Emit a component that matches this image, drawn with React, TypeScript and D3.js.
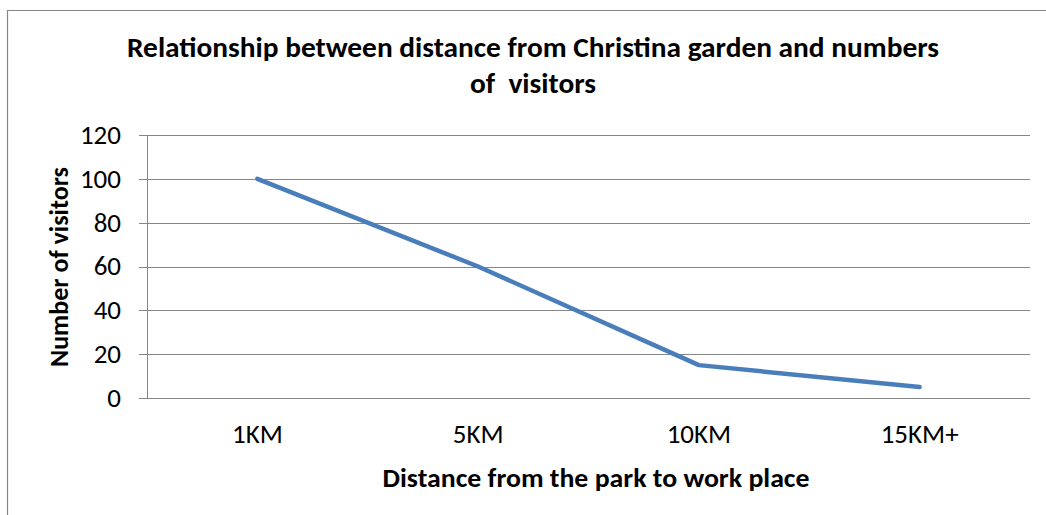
import React from "react";
import * as d3 from "d3";

const categories: string[] = ["1KM", "5KM", "10KM", "15KM+"];
const visitors: number[] = [100, 60, 15, 5];
const yTicks: number[] = [0, 20, 40, 60, 80, 100, 120];
const titleLines: string[] = [
  "Relationship between distance from Christina garden and numbers",
  "of  visitors",
];
const xTitle = "Distance from the park to work place";
const yTitle = "Number of visitors";

const W = 1046;
const H = 515;
const plot = { left: 147, right: 1030, top: 135, bottom: 398 };
const FONT = "Carlito, Calibri, 'Open Sans', sans-serif";
const GRID = "#868686";

export default function App() {
  const x = d3
    .scaleBand<string>()
    .domain(categories)
    .range([plot.left, plot.right])
    .paddingInner(0)
    .paddingOuter(0);
  const y = d3.scaleLinear().domain([0, 120]).range([plot.bottom, plot.top]);

  const line = d3
    .line<number>()
    .x((_, i) => (x(categories[i]) as number) + x.bandwidth() / 2)
    .y((d) => y(d));

  return (
    <svg
      width={W}
      height={H}
      style={{ position: "absolute", left: 0, top: 0, background: "#fff" }}
    >
      {/* chart frame */}
      <path d={`M7.5,${H} V10.5 H${W}`} fill="none" stroke={GRID} strokeWidth={1.2} />

      {/* title */}
      <g fontFamily={FONT} fontWeight="bold" fontSize={28} fill="#000" textAnchor="middle">
        <text x={533} y={57} textLength={812} lengthAdjust="spacingAndGlyphs">
          {titleLines[0]}
        </text>
        <text
          x={533}
          y={93}
          textLength={126}
          lengthAdjust="spacingAndGlyphs"
          style={{ whiteSpace: "pre" }}
        >
          {titleLines[1]}
        </text>
      </g>

      {/* gridlines and y ticks */}
      {yTicks.map((t) => (
        <g key={t}>
          <line
            x1={plot.left - 8}
            x2={plot.right}
            y1={Math.round(y(t)) + 0.5}
            y2={Math.round(y(t)) + 0.5}
            stroke={GRID}
            strokeWidth={1}
          />
          <text
            x={121}
            y={y(t)}
            dy="0.33em"
            textAnchor="end"
            fontFamily={FONT}
            fontSize={27}
            fill="#000"
          >
            {t}
          </text>
        </g>
      ))}
      {/* y axis line */}
      <line
        x1={plot.left + 0.5}
        x2={plot.left + 0.5}
        y1={plot.top}
        y2={plot.bottom}
        stroke={GRID}
        strokeWidth={1}
      />

      {/* category labels */}
      {categories.map((c) => (
        <text
          key={c}
          x={(x(c) as number) + x.bandwidth() / 2}
          y={443}
          textAnchor="middle"
          fontFamily={FONT}
          fontSize={27}
          fill="#000"
        >
          {c}
        </text>
      ))}

      {/* data line */}
      <path
        d={line(visitors) || ""}
        fill="none"
        stroke="#4A7EBB"
        strokeWidth={4.5}
        strokeLinecap="round"
        strokeLinejoin="round"
      />

      {/* axis titles */}
      <text
        x={596}
        y={487}
        textAnchor="middle"
        fontFamily={FONT}
        fontWeight="bold"
        fontSize={26}
        textLength={427}
        lengthAdjust="spacingAndGlyphs"
        fill="#000"
      >
        {xTitle}
      </text>
      <text
        transform="translate(68,267) rotate(-90)"
        textAnchor="middle"
        fontFamily={FONT}
        fontWeight="bold"
        fontSize={26}
        textLength={200}
        lengthAdjust="spacingAndGlyphs"
        fill="#000"
      >
        {yTitle}
      </text>
    </svg>
  );
}
